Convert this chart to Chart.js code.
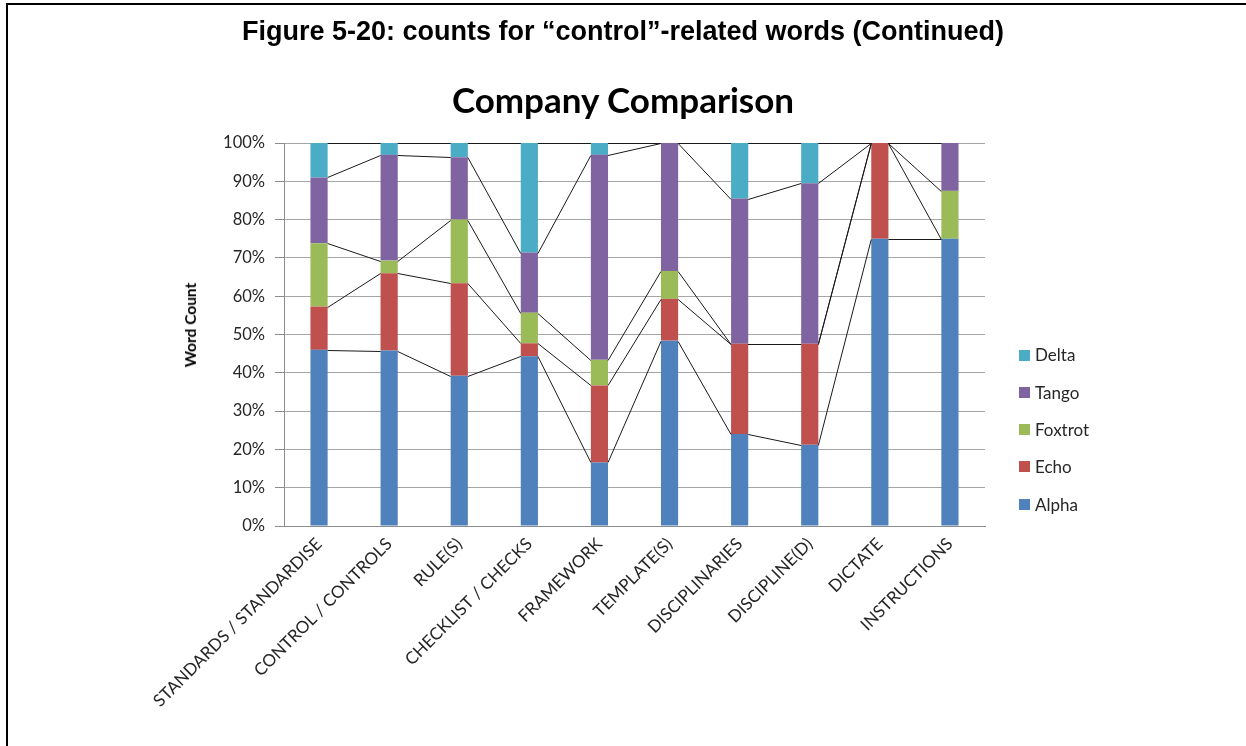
<!DOCTYPE html>
<html>
<head>
<meta charset="utf-8">
<script src="https://cdn.jsdelivr.net/npm/chart.js@4.4.1/dist/chart.umd.min.js"></script>
<style>
  html, body { margin: 0; padding: 0; background: #fff; }
  #page { position: relative; width: 1246px; height: 746px; overflow: hidden; }
  #frame { position: absolute; left: 6px; top: 3px; width: 1260px; height: 760px;
           border-top: 2px solid #000; border-left: 2px solid #000; }
  #caption { position: absolute; left: 0; width: 1246px; top: 15px; text-align: center; line-height: 32px;
             font-family: "Liberation Sans", Arial, sans-serif; font-weight: bold; font-size: 27px; color: #000; }
  #title { position: absolute; left: 0; width: 1246px; top: 78px; text-align: center; line-height: 42px;
           font-family: Lato, "Open Sans", sans-serif; font-weight: bold; font-size: 35px; color: #000; }
  #ytitle { position: absolute; left: 190px; top: 325px; transform: translate(-50%, -50%) rotate(-90deg);
            white-space: nowrap; font-family: Lato, "Open Sans", sans-serif; font-weight: bold;
            font-size: 15.5px; color: #000; }
  canvas { position: absolute; left: 0; top: 0; }
</style>
</head>
<body>
<div id="page">
  <div id="frame"></div>
  <canvas id="c" width="1246" height="746"></canvas>
  <div id="caption">Figure 5-20: counts for “control”-related words (Continued)</div>
  <div id="title">Company Comparison</div>
  <div id="ytitle">Word Count</div>
</div>
<script>
// Word categories along the x axis
const categories = [
  "STANDARDS / STANDARDISE", "CONTROL / CONTROLS", "RULE(S)", "CHECKLIST / CHECKS",
  "FRAMEWORK", "TEMPLATE(S)", "DISCIPLINARIES", "DISCIPLINE(D)", "DICTATE", "INSTRUCTIONS"
];

// Share of word count per company (%)
const alpha   = [46.0, 45.8, 39.2, 44.3, 16.6, 48.4, 24.0, 21.2, 75.0, 75.0];
const echo    = [11.3, 20.2, 24.2,  3.4, 20.1, 10.9, 23.6, 26.4, 25.0,  0.0];
const foxtrot = [16.5,  3.3, 16.6,  8.0,  6.7,  7.3,  0.0,  0.0,  0.0, 12.5];
const tango   = [17.2, 27.6, 16.3, 15.7, 53.5, 33.4, 37.9, 41.9,  0.0, 12.5];
const delta   = [ 9.0,  3.1,  3.7, 28.6,  3.1,  0.0, 14.5, 10.5,  0.0,  0.0];

const seriesNames = ["Alpha", "Echo", "Foxtrot", "Tango", "Delta"];
const yTicks = [0, 10, 20, 30, 40, 50, 60, 70, 80, 90, 100];

const colors = ["#4f81bd", "#c0504d", "#9bbb59", "#8064a2", "#4bacc6"];
const values = [alpha, echo, foxtrot, tango, delta];

const FONT = "Lato, 'Open Sans', sans-serif";

// Series lines joining the top of each segment to the same segment in the next column
const seriesLines = {
  id: "seriesLines",
  afterDatasetsDraw(chart) {
    const ctx = chart.ctx;
    ctx.save();
    ctx.strokeStyle = "#1a1a1a";
    ctx.lineWidth = 1;
    chart.data.datasets.forEach((ds, i) => {
      const meta = chart.getDatasetMeta(i);
      for (let j = 0; j < meta.data.length - 1; j++) {
        const a = meta.data[j], b = meta.data[j + 1];
        ctx.beginPath();
        ctx.moveTo(a.x + a.width / 2, Math.round(a.y) + 0.5);
        ctx.lineTo(b.x - b.width / 2, Math.round(b.y) + 0.5);
        ctx.stroke();
      }
    });
    ctx.restore();
  }
};

// Legend on the right, listed top-down from the last series
const sideLegend = {
  id: "sideLegend",
  afterDraw(chart) {
    const ctx = chart.ctx;
    const x = 1019, y0 = 355, step = 37.3, box = 11;
    ctx.save();
    ctx.font = "17px " + FONT;
    ctx.textBaseline = "middle";
    ctx.textAlign = "left";
    const ds = chart.data.datasets.slice().reverse();
    ds.forEach((d, k) => {
      const y = y0 + k * step;
      ctx.fillStyle = d.backgroundColor;
      ctx.fillRect(x, Math.round(y - box / 2), box, box);
      ctx.fillStyle = "#262626";
      ctx.fillText(d.label, x + box + 5, y + 1);
    });
    ctx.restore();
  }
};

new Chart(document.getElementById("c"), {
  type: "bar",
  data: {
    labels: categories,
    datasets: values.map((v, i) => ({
      label: seriesNames[i],
      data: v,
      backgroundColor: colors[i],
      borderWidth: 0,
      categoryPercentage: 1,
      barPercentage: 0.245
    }))
  },
  options: {
    responsive: false,
    animation: false,
    devicePixelRatio: 1,
    layout: { padding: { left: 174, right: 261, top: 143, bottom: 0 } },
    plugins: { legend: { display: false }, title: { display: false }, tooltip: { enabled: false } },
    scales: {
      x: {
        stacked: true,
        grid: { display: false, drawTicks: false },
        border: { display: true, color: "#8c8c8c", width: 1 },
        ticks: {
          minRotation: 45, maxRotation: 45, autoSkip: false, padding: 8,
          color: "#262626", font: { family: FONT, size: 17 }
        },
        afterFit(scale) { scale.height = 220; }
      },
      y: {
        stacked: true,
        min: 0, max: 100,
        afterBuildTicks(scale) { scale.ticks = yTicks.map(v => ({ value: v })); },
        grid: { color: "#a6a6a6", lineWidth: 1, drawTicks: true, tickLength: 9, tickColor: "#8c8c8c" },
        border: { display: true, color: "#8c8c8c", width: 1 },
        ticks: {
          padding: 10, color: "#262626", font: { family: FONT, size: 16.5 },
          callback: v => v + "%"
        },
        afterFit(scale) { scale.width = 110; }
      }
    }
  },
  plugins: [seriesLines, sideLegend]
});
</script>
</body>
</html>
